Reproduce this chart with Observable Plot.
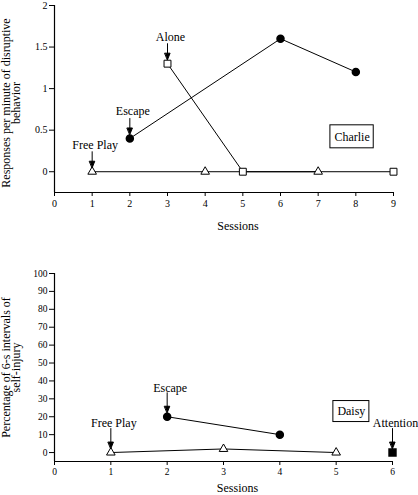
<!DOCTYPE html>
<html><head><meta charset="utf-8">
<script src="https://cdn.jsdelivr.net/npm/d3@7"></script>
<script src="https://cdn.jsdelivr.net/npm/@observablehq/plot@0.6"></script>
<style>
body{margin:0;background:#fff;}
#chart{width:418px;}
#chart svg{display:block;overflow:visible;font-family:'Liberation Serif','Times New Roman',serif !important;}
#chart svg text{font-family:'Liberation Serif','Times New Roman',serif;}
</style></head><body><div id="chart"></div>
<script>
// ---------- Charlie (top panel) ----------
const charlieFreePlaySessions = [1, 4, 7];
const charlieFreePlayValues   = [0, 0, 0];
const charlieEscapeSessions   = [2, 6, 8];
const charlieEscapeValues     = [0.4, 1.6, 1.2];
const charlieAloneSessions    = [3, 5, 9];
const charlieAloneValues      = [1.3, 0, 0];
const charlieXTicks = [0, 1, 2, 3, 4, 5, 6, 7, 8, 9];
const charlieYTicks = [0, 0.5, 1, 1.5, 2];
const charlieYTickLabels = ["0", "0.5", "1", "1.5", "2"];
const charlieYTitle = "Responses per minute of disruptive\nbehavior";
const charlieNoteLabels   = ["Free Play", "Escape", "Alone"];
const charlieNoteSessions = [1, 2, 3];
const charlieNoteValues   = [0, 0.4, 1.3];
const charlieBoxLabel = ["Charlie"];
const charlieBoxSession = [7.9];
const charlieBoxValue = [0.42];

// ---------- Daisy (bottom panel) ----------
const daisyFreePlaySessions = [1, 3, 5];
const daisyFreePlayValues   = [0, 2, 0];
const daisyEscapeSessions   = [2, 4];
const daisyEscapeValues     = [20, 10];
const daisyAttentionSessions = [6];
const daisyAttentionValues   = [0];
const daisyXTicks = [0, 1, 2, 3, 4, 5, 6];
const daisyYTicks = [0, 10, 20, 30, 40, 50, 60, 70, 80, 90, 100];
const daisyYTickLabels = ["0", "10", "20", "30", "40", "50", "60", "70", "80", "90", "100"];
const daisyYTitle = "Percentage of 6-s intervals of\nself-injury";
const daisyNoteLabels   = ["Free Play", "Escape", "Attention"];
const daisyNoteSessions = [1, 2, 6];
const daisyNoteValues   = [0, 20, 0];
const daisyBoxLabel = ["Daisy"];
const daisyBoxSession = [5.27];
const daisyBoxValue = [22.9];

const xLabel = "Sessions";

// ---------- helpers ----------
const zip = (xs, ys) => xs.map((x, i) => ({x, y: ys[i]}));
const FONT = "'Liberation Serif', 'Times New Roman', serif";
const ctx = document.createElement("canvas").getContext("2d");
ctx.font = "12px 'Liberation Serif'";
const textWidth = (s) => ctx.measureText(s).width;

const arrowShape = {
  draw(context, l) {
    context.moveTo(0, 0);
    context.lineTo(0, -l + 5);
    context.moveTo(0, -l);
    context.lineTo(-2.6, -l + 6.5);
    context.lineTo(2.6, -l + 6.5);
    context.closePath();
  }
};

function panel(cfg) {
  const notes = cfg.noteLabels.map((t, i) => ({t, x: cfg.noteSessions[i], y: cfg.noteValues[i]}));
  const box = cfg.boxLabel.map((t, i) => ({t, x: cfg.boxSession[i], y: cfg.boxValue[i]}));
  const hw = textWidth(cfg.boxLabel[0]) / 2 + cfg.boxPadX;
  const hh = cfg.boxHalfH;
  const lineOpts = {x: "x", y: "y", stroke: "black", strokeWidth: 1};
  return Plot.plot({
    width: 418,
    height: cfg.height,
    marginTop: cfg.marginTop,
    marginBottom: cfg.marginBottom,
    marginLeft: 54,
    marginRight: cfg.marginRight,
    style: {fontFamily: FONT, fontSize: cfg.tickFont, color: "black", background: "white"},
    x: {domain: cfg.xDomain, label: null},
    y: {domain: cfg.yDomain, label: null},
    marks: [
      Plot.ruleX([cfg.xDomain[0]], {stroke: "black", strokeWidth: 1.2}),
      Plot.ruleY([cfg.yDomain[0]], {stroke: "black", strokeWidth: 1.2}),
      Plot.axisX({ticks: cfg.xTicks, tickSize: 4, tickPadding: 3, label: null, tickFormat: d => String(d)}),
      Plot.axisY({ticks: cfg.yTicks, tickSize: 5, tickPadding: 2, label: null,
        tickFormat: d => cfg.yTickLabels[cfg.yTicks.indexOf(d)]}),
      ...cfg.lines.map(s => Plot.line(s.data, lineOpts)),
      ...cfg.lines.map(s => Plot.dot(s.data, {x: "x", y: "y", ...s.dot})),
      Plot.vector(notes, {x: "x", y: "y", length: cfg.arrowLen, rotate: 180, anchor: "start",
        dy: -cfg.arrowStart, shape: arrowShape, stroke: "black", fill: "black", strokeWidth: 1}),
      Plot.text(notes, {x: "x", y: "y", text: "t", dy: -cfg.noteOffset, dx: 3, fontSize: 12,
        lineAnchor: "middle", fill: "black"}),
      Plot.rect(box, {x1: "x", x2: "x", y1: "y", y2: "y", insetLeft: -hw, insetRight: -hw,
        insetTop: -hh, insetBottom: -hh, fill: "white", stroke: "black", strokeWidth: 1}),
      Plot.text(box, {x: "x", y: "y", text: "t", fontSize: 12, lineAnchor: "middle", fill: "black"}),
      Plot.text([cfg.yTitle], {frameAnchor: "left", textAnchor: "middle", rotate: -90, dx: -43, dy: cfg.titleDy,
        fontSize: 12, lineHeight: 0.9, lineAnchor: "middle", fill: "black"}),
      Plot.text([xLabel], {frameAnchor: "bottom", textAnchor: "middle", dx: 14, dy: cfg.xLabelDy, fontSize: 12,
        lineAnchor: "middle", fill: "black"})
    ]
  });
}

const openTri = {symbol: "triangle", r: 3.2, fill: "white", stroke: "black", strokeWidth: 1};
const openSq = {symbol: "square", r: 3.9, fill: "white", stroke: "black", strokeWidth: 1};
const filledCirc = {r: 3.5, fill: "black", stroke: "black"};
const filledSq = {symbol: "square", r: 3.9, fill: "black", stroke: "black"};

const charliePlot = panel({
  height: 245, marginTop: 5, marginBottom: 53, marginRight: 25, tickFont: "10px",
  xDomain: [0, 9], yDomain: [-0.25, 2],
  xTicks: charlieXTicks, yTicks: charlieYTicks, yTickLabels: charlieYTickLabels,
  yTitle: charlieYTitle, titleDy: 4, xLabelDy: 34,
  lines: [
    {data: zip(charlieEscapeSessions, charlieEscapeValues), dot: filledCirc},
    {data: zip(charlieAloneSessions, charlieAloneValues), dot: openSq},
    {data: zip(charlieFreePlaySessions, charlieFreePlayValues), dot: openTri}
  ],
  noteLabels: charlieNoteLabels, noteSessions: charlieNoteSessions, noteValues: charlieNoteValues,
  arrowStart: 20, arrowLen: 16, noteOffset: 27,
  boxLabel: charlieBoxLabel, boxSession: charlieBoxSession, boxValue: charlieBoxValue,
  boxPadX: 4, boxHalfH: 11.5
});

const daisyPlot = panel({
  height: 250, marginTop: 28, marginBottom: 34, marginRight: 26, tickFont: "9.5px",
  xDomain: [0, 6], yDomain: [-5, 100],
  xTicks: daisyXTicks, yTicks: daisyYTicks, yTickLabels: daisyYTickLabels,
  yTitle: daisyYTitle, titleDy: 0, xLabelDy: 27,
  lines: [
    {data: zip(daisyEscapeSessions, daisyEscapeValues), dot: filledCirc},
    {data: zip(daisyFreePlaySessions, daisyFreePlayValues), dot: openTri},
    {data: zip(daisyAttentionSessions, daisyAttentionValues), dot: filledSq}
  ],
  noteLabels: daisyNoteLabels, noteSessions: daisyNoteSessions, noteValues: daisyNoteValues,
  arrowStart: 24, arrowLen: 20, noteOffset: 29,
  boxLabel: daisyBoxLabel, boxSession: daisyBoxSession, boxValue: daisyBoxValue,
  boxPadX: 4, boxHalfH: 10.5
});

document.getElementById("chart").append(charliePlot, daisyPlot);
</script>
</body></html>
